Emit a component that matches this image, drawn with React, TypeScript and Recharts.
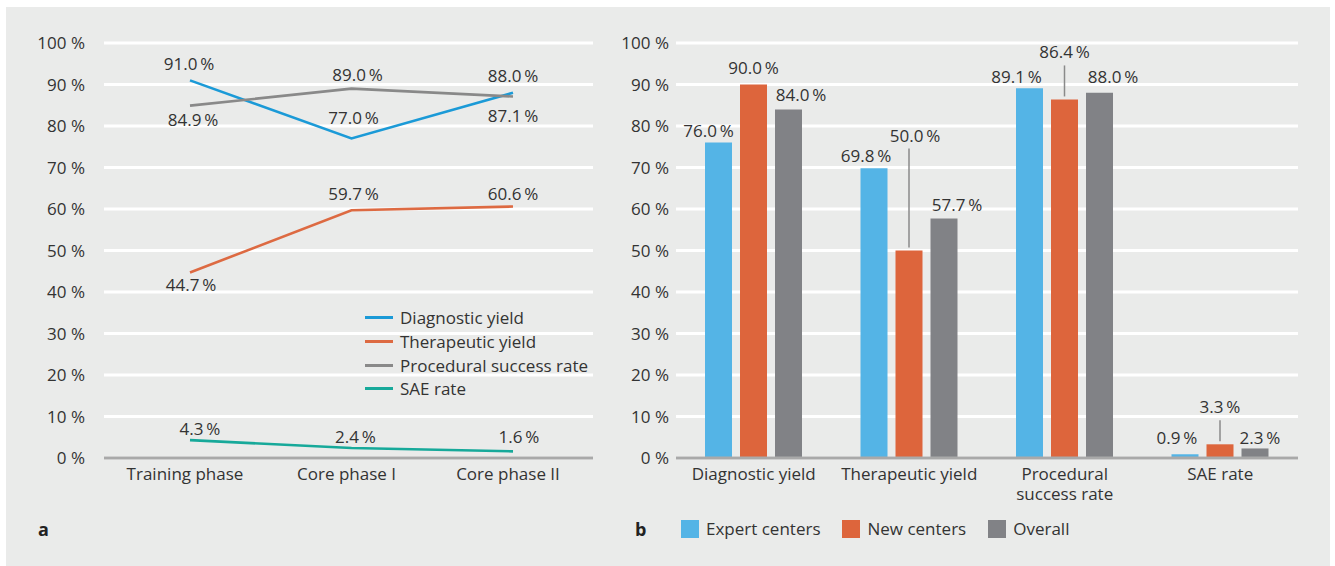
import {
  Bar,
  BarChart,
  CartesianGrid,
  LabelList,
  Legend,
  Line,
  LineChart,
  XAxis,
  YAxis,
} from "recharts";

// panel a
const phases = ["Training phase", "Core phase I", "Core phase II"];
const diagnosticYield = [91.0, 77.0, 88.0];
const therapeuticYield = [44.7, 59.7, 60.6];
const proceduralSuccess = [84.9, 89.0, 87.1];
const saeRate = [4.3, 2.4, 1.6];

// panel b
const outcomes = ["Diagnostic yield", "Therapeutic yield", "Procedural success rate", "SAE rate"];
const expertCenters = [76.0, 69.8, 89.1, 0.9];
const newCenters = [90.0, 50.0, 86.4, 3.3];
const overall = [84.0, 57.7, 88.0, 2.3];

const percentTicks = [0, 10, 20, 30, 40, 50, 60, 70, 80, 90, 100];

const lineRows = phases.map((phase, i) => ({
  phase,
  diagnostic: diagnosticYield[i],
  therapeutic: therapeuticYield[i],
  procedural: proceduralSuccess[i],
  sae: saeRate[i],
}));

const barRows = outcomes.map((outcome, i) => ({
  outcome,
  expert: expertCenters[i],
  fresh: newCenters[i],
  overall: overall[i],
}));

const lineOrder = ["Diagnostic yield", "Therapeutic yield", "Procedural success rate", "SAE rate"];
const barOrder = ["Expert centers", "New centers", "Overall"];

const TEXT = "#333";
const FONT = 17;
const fmt = (v: number) => `${v.toFixed(1)}\u2009%`;

// label placement (dx, dy from the point) for the line panel
const lineLabelOffsets: Record<string, number[][]> = {
  diagnostic: [[-1, -16], [2, -20], [0, -17]],
  therapeutic: [[1, 12.5], [2, -16], [0, -12.5]],
  procedural: [[3, 14], [6, -14], [0, 19]],
  sae: [[10, -11], [4, -11], [6, -14]],
};

// label placement for bars: horizontal shift and rise above bar top
const barLabelPlacement: Record<string, { dx: number[]; rise: number[] }> = {
  expert: { dx: [-10, -8, -13, -8], rise: [11.6, 12, 11, 16] },
  fresh: { dx: [0, 6, 0, 0], rise: [17, 115, 47, 37] },
  overall: { dx: [12.5, 13, 13.5, 5], rise: [14.4, 13.5, 16, 10.5] },
};

const lineLabel = (key: string) => (props: any) => {
  const vb = props.viewBox || {};
  const x = (vb.x ?? props.x) as number;
  const y = (vb.y ?? props.y) as number;
  const [dx, dy] = lineLabelOffsets[key][props.index] || [0, -15];
  return (
    <text x={x + dx} y={y + dy} dy="0.355em" textAnchor="middle" fontSize={FONT} fill={TEXT}>
      {fmt(Number(props.value))}
    </text>
  );
};

const barLabel = (key: string) => (props: any) => {
  const vb = props.viewBox || {};
  const x = (vb.x ?? props.x) as number;
  const y = (vb.y ?? props.y) as number;
  const w = (vb.width ?? props.width) as number;
  const cfg = barLabelPlacement[key];
  const cx = x + w / 2;
  const rise = cfg.rise[props.index];
  const ly = y - rise;
  return (
    <g>
      {rise > 25 && (
        <line x1={cx} x2={cx} y1={ly + 13} y2={y - 3} stroke="#8a8a8a" strokeWidth={1.5} />
      )}
      <text
        x={cx + cfg.dx[props.index]}
        y={ly}
        dy="0.355em"
        textAnchor="middle"
        fontSize={FONT}
        fill={TEXT}
      >
        {fmt(Number(props.value))}
      </text>
    </g>
  );
};

const sortBy = (payload: any[], order: string[]) =>
  [...(payload || [])].sort((a, b) => order.indexOf(a.value) - order.indexOf(b.value));

const LineLegend = (props: any) => (
  <div style={{ fontSize: FONT, color: TEXT }}>
    {sortBy(props.payload, lineOrder).map((p: any) => (
      <div key={p.value} style={{ display: "flex", alignItems: "center", height: 23.7 }}>
        <span
          style={{ display: "inline-block", width: 28, height: 3, background: p.color, marginRight: 7 }}
        />
        <span>{p.value}</span>
      </div>
    ))}
  </div>
);

const BarLegend = (props: any) => (
  <div style={{ display: "flex", alignItems: "center", gap: 22, fontSize: FONT, color: TEXT }}>
    {sortBy(props.payload, barOrder).map((p: any) => (
      <div key={p.value} style={{ display: "flex", alignItems: "center" }}>
        <span
          style={{ display: "inline-block", width: 18, height: 18, background: p.color, marginRight: 7 }}
        />
        <span>{p.value}</span>
      </div>
    ))}
  </div>
);

// greedy word wrap for long category names
const wrapWords = (s: string, maxChars: number) => {
  const lines: string[] = [];
  let cur = "";
  s.split(" ").forEach((w) => {
    const next = cur ? `${cur} ${w}` : w;
    if (next.length > maxChars && cur) {
      lines.push(cur);
      cur = w;
    } else cur = next;
  });
  if (cur) lines.push(cur);
  return lines;
};

const OutcomeTick = (props: any) => {
  const lines = wrapWords(String(props.payload.value), 17);
  return (
    <text x={props.x} y={props.y} textAnchor="middle" fontSize={FONT} fill={TEXT}>
      {lines.map((l, i) => (
        <tspan key={l} x={props.x} dy={i === 0 ? "0.71em" : 20}>
          {l}
        </tspan>
      ))}
    </text>
  );
};

const tickStyle = { fontSize: FONT, fill: TEXT };

export default function App() {
  return (
    <div
      style={{
        position: "absolute",
        left: 0,
        top: 0,
        width: 1335,
        height: 566,
        background: "#fff",
        fontFamily: "Open Sans",
      }}
    >
      <div
        style={{ position: "absolute", left: 6, top: 7, width: 1324, height: 559, background: "#eaebea" }}
      />

      <div style={{ position: "absolute", left: 0, top: 0 }}>
        <LineChart width={600} height={566} data={lineRows} margin={{ top: 43, right: 7, bottom: 78, left: 44 }}>
          <CartesianGrid vertical={false} stroke="#fff" strokeWidth={3} />
          <XAxis
            dataKey="phase"
            height={30}
            padding={{ left: 86, right: 80 }}
            tickLine={false}
            tickMargin={4}
            stroke="#a9a9a9"
            strokeWidth={3}
            tick={{ ...tickStyle, dx: -5 }}
            interval={0}
          />
          <YAxis
            width={60}
            domain={[0, 100]}
            ticks={percentTicks}
            axisLine={false}
            tickLine={false}
            tickMargin={13}
            tick={tickStyle}
            tickFormatter={(v) => `${v} %`}
            interval={0}
          />
          <Line dataKey="diagnostic" name="Diagnostic yield" stroke="#1b9ad7" strokeWidth={2.6} dot={false} activeDot={false} isAnimationActive={false}>
            <LabelList dataKey="diagnostic" content={lineLabel("diagnostic")} />
          </Line>
          <Line dataKey="therapeutic" name="Therapeutic yield" stroke="#dd6a42" strokeWidth={2.6} dot={false} activeDot={false} isAnimationActive={false}>
            <LabelList dataKey="therapeutic" content={lineLabel("therapeutic")} />
          </Line>
          <Line dataKey="procedural" name="Procedural success rate" stroke="#898989" strokeWidth={2.6} dot={false} activeDot={false} isAnimationActive={false}>
            <LabelList dataKey="procedural" content={lineLabel("procedural")} />
          </Line>
          <Line dataKey="sae" name="SAE rate" stroke="#17a99a" strokeWidth={2.6} dot={false} activeDot={false} isAnimationActive={false}>
            <LabelList dataKey="sae" content={lineLabel("sae")} />
          </Line>
          <Legend
            layout="vertical"
            align="center"
            verticalAlign="middle"
            content={LineLegend}
            wrapperStyle={{ left: 365, top: 306, width: 235 }}
          />
        </LineChart>
      </div>

      <div style={{ position: "absolute", left: 600, top: 0 }}>
        <BarChart
          width={735}
          height={566}
          data={barRows}
          barSize={27}
          barGap={8}
          margin={{ top: 43, right: 37, bottom: 78, left: 16 }}
        >
          <CartesianGrid vertical={false} stroke="#fff" strokeWidth={3} />
          <XAxis
            dataKey="outcome"
            height={30}
            tickLine={false}
            tickMargin={4}
            stroke="#a9a9a9"
            strokeWidth={3}
            tick={<OutcomeTick />}
            interval={0}
          />
          <YAxis
            width={60}
            domain={[0, 100]}
            ticks={percentTicks}
            axisLine={false}
            tickLine={false}
            tickMargin={1}
            tick={tickStyle}
            tickFormatter={(v) => `${v} %`}
            interval={0}
          />
          <Bar dataKey="expert" name="Expert centers" fill="#54b4e6" isAnimationActive={false}>
            <LabelList dataKey="expert" content={barLabel("expert")} />
          </Bar>
          <Bar dataKey="fresh" name="New centers" fill="#dd653c" isAnimationActive={false}>
            <LabelList dataKey="fresh" content={barLabel("fresh")} />
          </Bar>
          <Bar dataKey="overall" name="Overall" fill="#818286" isAnimationActive={false}>
            <LabelList dataKey="overall" content={barLabel("overall")} />
          </Bar>
          <Legend
            layout="horizontal"
            align="center"
            verticalAlign="middle"
            content={BarLegend}
            wrapperStyle={{ left: 81, top: 517, width: 600 }}
          />
        </BarChart>
      </div>

      <svg
        width={1335}
        height={566}
        style={{ position: "absolute", left: 0, top: 0, pointerEvents: "none" }}
      >
        <text x={38} y={536} fontSize={18} fontWeight="bold" fill="#222">
          a
        </text>
        <text x={635} y={536} fontSize={18} fontWeight="bold" fill="#222">
          b
        </text>
      </svg>
    </div>
  );
}
